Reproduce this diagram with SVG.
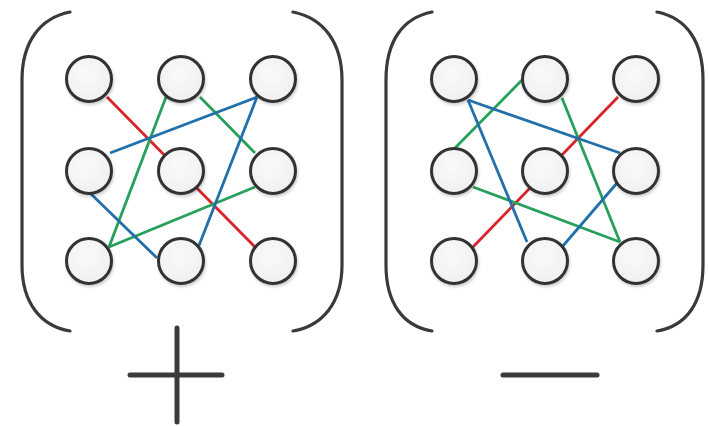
<svg xmlns="http://www.w3.org/2000/svg" width="708" height="426" viewBox="0 0 708 426">
<defs>
<radialGradient id="g" cx="0.45" cy="0.4" r="0.7">
<stop offset="0" stop-color="#fafafa"/>
<stop offset="1" stop-color="#eeeeee"/>
</radialGradient>
<filter id="sh" x="-30%" y="-30%" width="160%" height="160%">
<feGaussianBlur in="SourceAlpha" stdDeviation="1.5"/>
<feOffset dx="1" dy="1.5" result="b"/>
<feComponentTransfer><feFuncA type="linear" slope="0.2"/></feComponentTransfer>
<feMerge><feMergeNode/><feMergeNode in="SourceGraphic"/></feMerge>
</filter>
</defs>
<style>
.n{fill:url(#g);stroke:#333;stroke-width:3;filter:url(#sh)}
.br{fill:none;stroke:#3a3a3a;stroke-width:3.2;stroke-linecap:round}
.sg{fill:none;stroke:#3a3a3a;stroke-width:5;stroke-linecap:round}
.r{stroke:#d8232a;stroke-width:2.8;fill:none}
.gr{stroke:#26a05a;stroke-width:2.8;fill:none}
.b{stroke:#2270aa;stroke-width:2.8;fill:none}
</style>
<rect width="708" height="426" fill="#ffffff"/>
<g id="brackets">
<path class="br" d="M70,12 C40,18 22,42 22,80 L22,265 C22,302 40,326 70,331"/>
<path class="br" d="M293,12 C323,18 342,42 342,80 L342,265 C342,302 323,326 293,331"/>
<path class="br" d="M432,12 C402,18 386,42 386,80 L386,265 C386,302 402,326 432,331"/>
<path class="br" d="M657,12 C687,18 703,42 703,80 L703,265 C703,302 687,326 657,331"/>
</g>
<g id="connectors">
<line class="r" x1="107" y1="97" x2="255" y2="247"/>
<line class="gr" x1="166" y1="97" x2="109" y2="247"/>
<line class="gr" x1="200" y1="97" x2="255" y2="153"/>
<line class="gr" x1="109" y1="247" x2="255" y2="187"/>
<line class="b" x1="257" y1="97" x2="110" y2="153"/>
<line class="b" x1="257" y1="97" x2="198" y2="248"/>
<line class="b" x1="90" y1="193" x2="157" y2="258"/>
<line class="r" x1="618" y1="97" x2="472" y2="248"/>
<line class="gr" x1="522" y1="80" x2="455" y2="148"/>
<line class="gr" x1="562" y1="98" x2="620" y2="242"/>
<line class="gr" x1="473" y1="187" x2="620" y2="242"/>
<line class="b" x1="468" y1="100" x2="620" y2="153"/>
<line class="b" x1="468" y1="100" x2="527" y2="242"/>
<line class="b" x1="562" y1="247" x2="617" y2="183"/>
</g>
<g id="L00"><circle class="n" cx="89" cy="79" r="22.5"/></g>
<g id="L01"><circle class="n" cx="181" cy="79" r="22.5"/></g>
<g id="L02"><circle class="n" cx="273" cy="79" r="22.5"/></g>
<g id="L10"><circle class="n" cx="89" cy="171" r="22.5"/></g>
<g id="L11"><circle class="n" cx="181" cy="171" r="22.5"/></g>
<g id="L12"><circle class="n" cx="273" cy="171" r="22.5"/></g>
<g id="L20"><circle class="n" cx="89" cy="261" r="22.5"/></g>
<g id="L21"><circle class="n" cx="181" cy="261" r="22.5"/></g>
<g id="L22"><circle class="n" cx="273" cy="261" r="22.5"/></g>
<g id="R00"><circle class="n" cx="454" cy="79" r="22.5"/></g>
<g id="R01"><circle class="n" cx="545" cy="79" r="22.5"/></g>
<g id="R02"><circle class="n" cx="636" cy="79" r="22.5"/></g>
<g id="R10"><circle class="n" cx="454" cy="171" r="22.5"/></g>
<g id="R11"><circle class="n" cx="545" cy="171" r="22.5"/></g>
<g id="R12"><circle class="n" cx="636" cy="171" r="22.5"/></g>
<g id="R20"><circle class="n" cx="454" cy="261" r="22.5"/></g>
<g id="R21"><circle class="n" cx="545" cy="261" r="22.5"/></g>
<g id="R22"><circle class="n" cx="636" cy="261" r="22.5"/></g>
<g id="signs">
<line class="sg" x1="130" y1="375" x2="222" y2="375"/>
<line class="sg" x1="177" y1="328" x2="177" y2="422"/>
<line class="sg" x1="503" y1="375" x2="597" y2="375"/>
</g>
</svg>
